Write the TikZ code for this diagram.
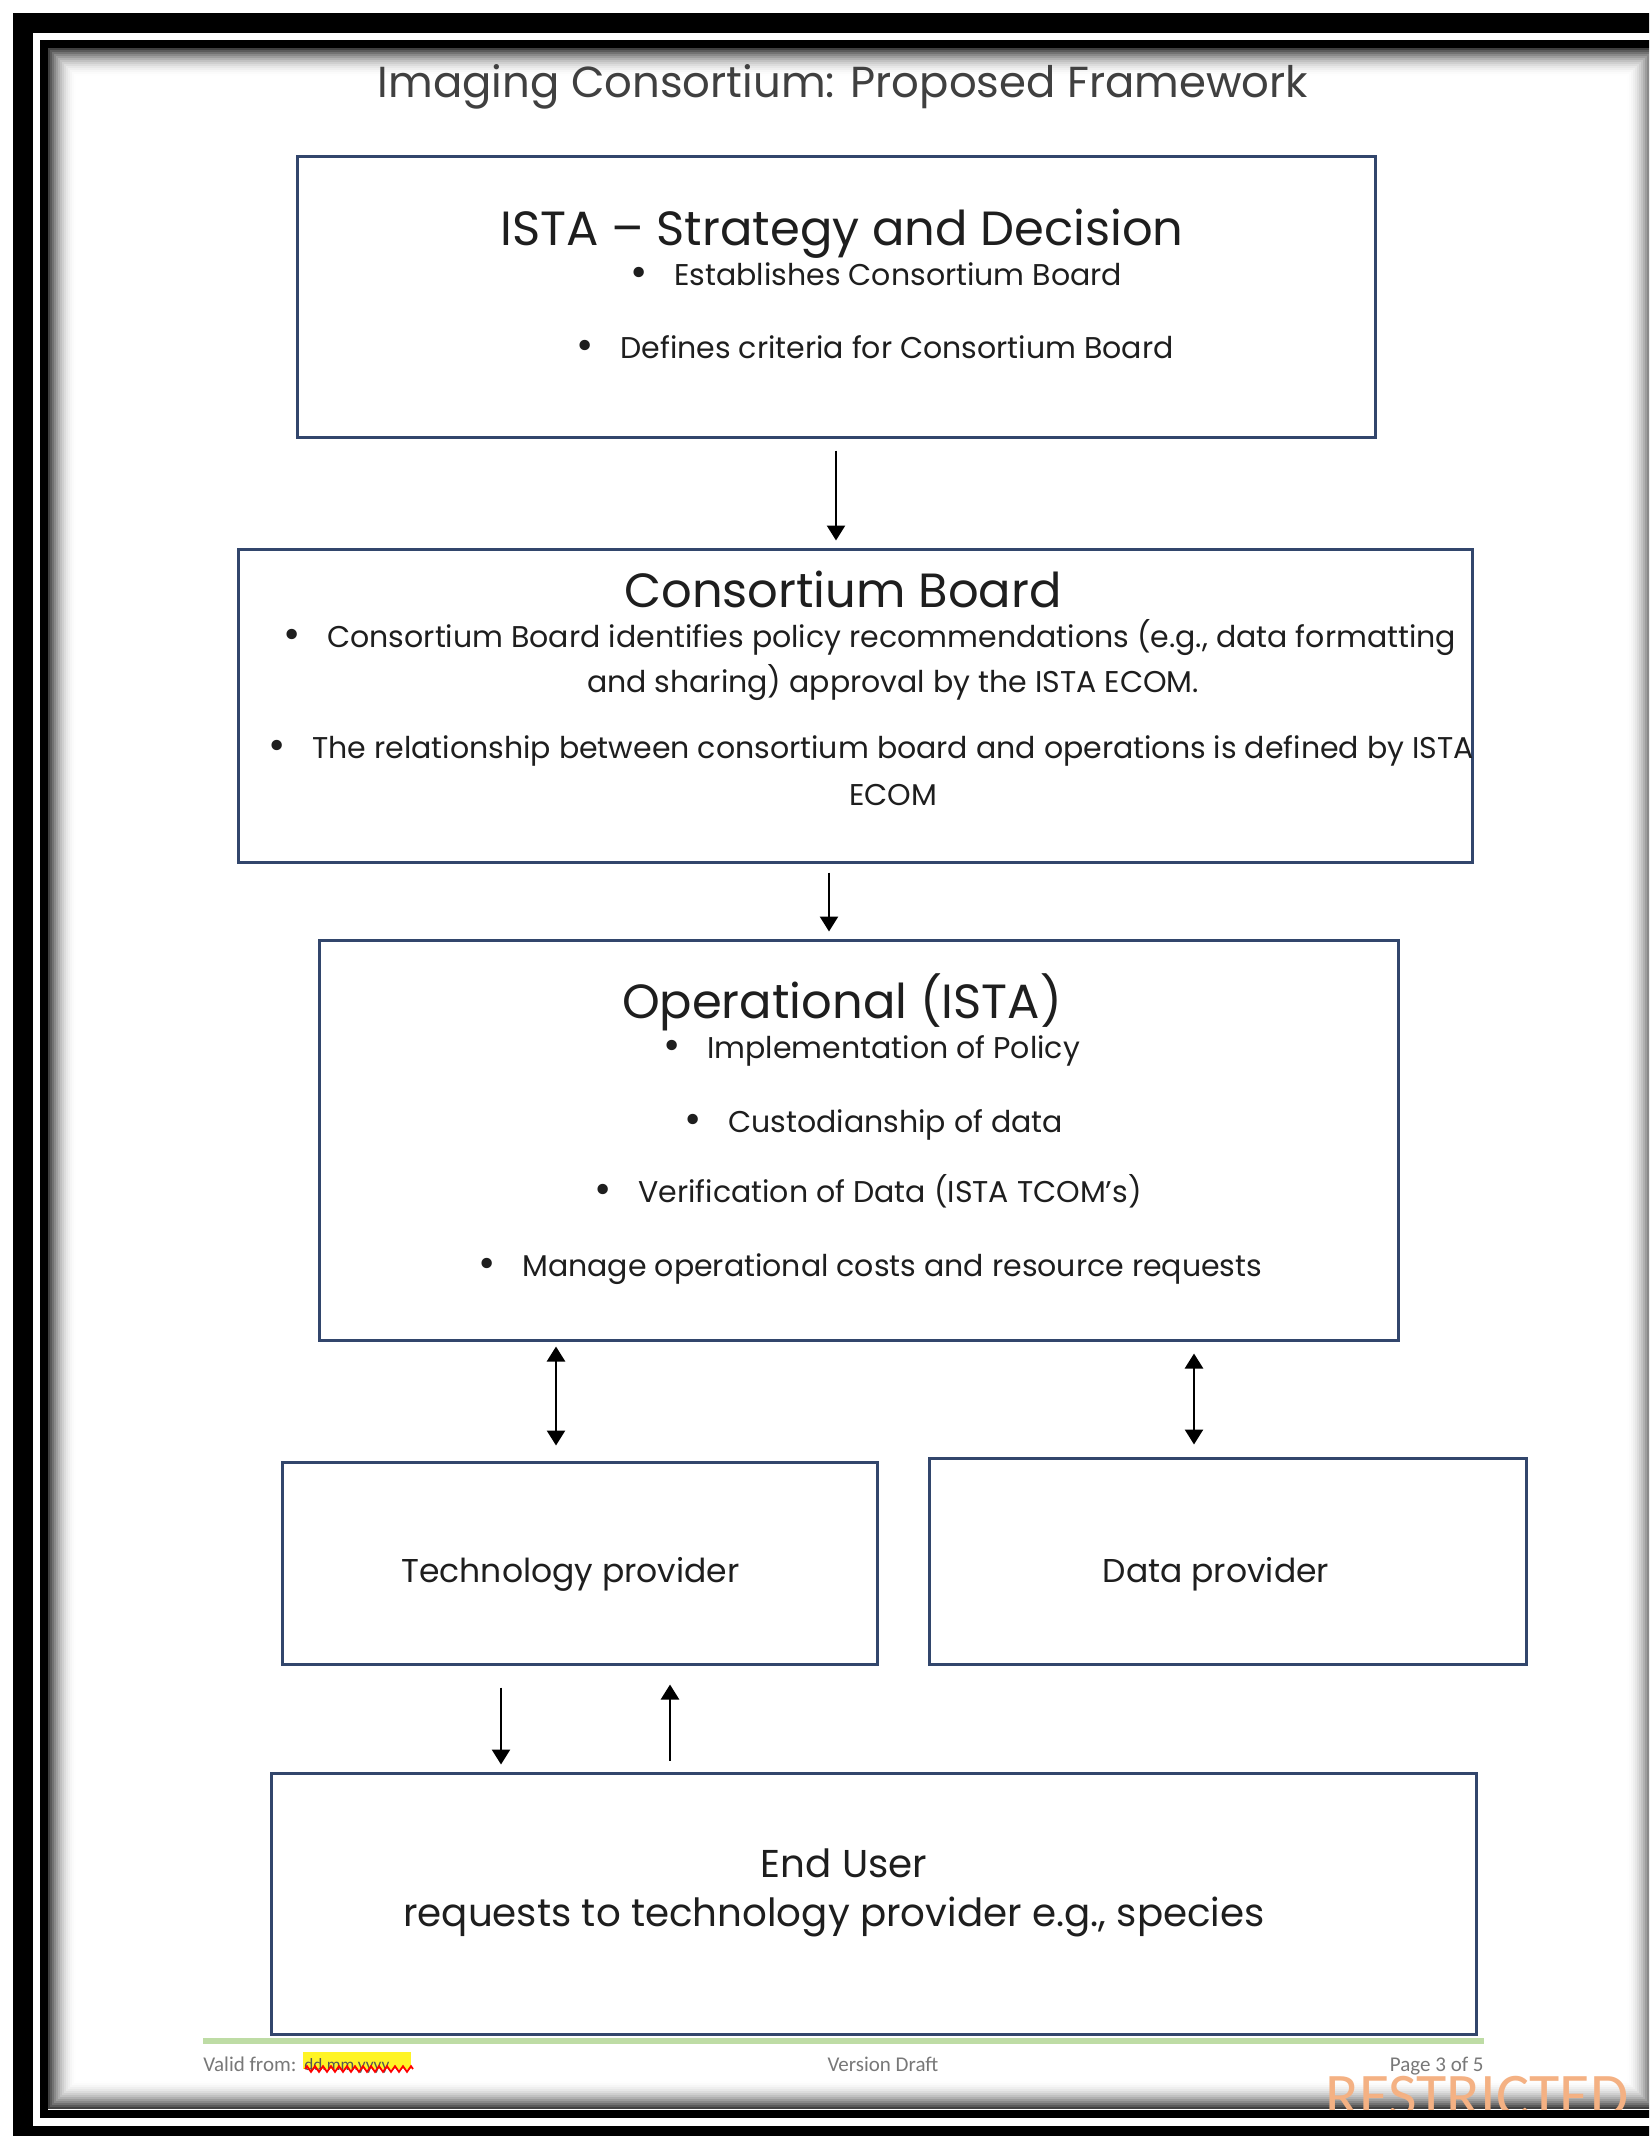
\documentclass[tikz,border=0pt]{standalone}
\usepackage{fontspec}
\setmainfont{Poppins}
\newfontfamily\footfont{Carlito}
\usetikzlibrary{arrows.meta,decorations.pathmorphing}
\definecolor{boxnavy}{RGB}{50,70,108}
\definecolor{footgreen}{RGB}{190,220,165}
\definecolor{restrictorange}{RGB}{244,177,131}
\definecolor{footgray}{RGB}{120,120,120}
\definecolor{txt}{RGB}{30,30,30}
\newcommand\bulmark{\makebox[22pt][l]{\raisebox{-0.6pt}{\fontsize{21}{21}\selectfont\textbullet}}}
\begin{document}
\begin{tikzpicture}[x=0.5pt,y=-0.5pt,
 box/.style={draw=boxnavy,line width=1.5pt,rectangle,inner sep=0pt,fill=white},
 arr/.style={line width=1.3pt,-{Triangle[width=9pt,length=7.5pt]}},
 darr/.style={line width=1.3pt,{Triangle[width=9pt,length=7.5pt]}-{Triangle[width=9pt,length=7.5pt]}},
 titletext/.style={font=\fontsize{21.7}{26}\selectfont,text=txt!85,inner sep=0pt,anchor=base},
 head/.style={font=\fontsize{24}{28}\selectfont,text=txt,inner sep=0pt,anchor=base},
 bul/.style={font=\fontsize{15}{18}\selectfont,text=txt,inner sep=0pt,anchor=base west},
 cont/.style={font=\fontsize{15}{18}\selectfont,text=txt,inner sep=0pt,anchor=base},
 provtext/.style={font=\fontsize{16.5}{20}\selectfont,text=txt,inner sep=0pt,anchor=base},
 endtext/.style={font=\fontsize{19.4}{24}\selectfont,text=txt,inner sep=0pt,anchor=base},
 foot/.style={font=\footfont\fontsize{10.5}{12}\selectfont,text=footgray,inner sep=0pt}
]
\useasboundingbox (0,0) rectangle (1649,2136);
\clip (0,0) rectangle (1649,2136);
\fill[white] (0,0) rectangle (1649,2136);

% inner shadow of the page frame
\foreach \d in {0,2,...,28}{
  \pgfmathsetmacro\op{0.75*(1-\d/28)^2}
  \draw[black,opacity=\op,line width=1pt] (48+\d+1,48+\d+1) rectangle (1655-\d-1,2109-\d-1);
}

% title
\node[titletext] (title) at (843,97) {Imaging Consortium: Proposed Framework};

% boxes
\node[box,minimum width=539pt,minimum height=140.5pt] (b1) at (836,296.5) {};
\node[box,minimum width=617pt,minimum height=156.5pt] (b2) at (855,705.5) {};
\node[box,minimum width=539.5pt,minimum height=200pt] (b3) at (858.5,1140) {};
\node[box,minimum width=297.5pt,minimum height=101pt] (b4) at (579.5,1563) {};
\node[box,minimum width=298.5pt,minimum height=103pt] (b5) at (1227.5,1561) {};
\node[box,minimum width=602.5pt,minimum height=130.5pt] (b6) at (873.5,1903.5) {};

% box 1
\node[head] (h1) at (842,245) {ISTA – Strategy and Decision};
\node[bul] (t11) at (630,285) {\bulmark Establishes Consortium Board};
\node[bul] (t12) at (576,358) {\bulmark Defines criteria for Consortium Board};

% box 2
\node[head] (h2) at (843,607) {Consortium Board};
\node[bul] (t21) at (283,647) {\bulmark Consortium Board identifies policy recommendations (e.g., data formatting};
\node[cont] (t21b) at (893,692) {and sharing) approval by the ISTA ECOM.};
\node[bul] (t22) at (268,758) {\bulmark The relationship between consortium board and operations is defined by ISTA};
\node[cont] (t22b) at (893,805) {ECOM};

% box 3
\node[head] (h3) at (842,1018) {Operational (ISTA)};
\node[bul] (t31) at (663,1058) {\bulmark Implementation of Policy};
\node[bul] (t32) at (684,1132) {\bulmark Custodianship of data};
\node[bul] (t33) at (594,1202) {\bulmark Verification of Data (ISTA TCOM’s)};
\node[bul] (t34) at (478,1276) {\bulmark Manage operational costs and resource requests};

% providers
\node[provtext] (t4) at (570.5,1582) {Technology provider};
\node[provtext] (t5) at (1216,1582) {Data provider};

% end user
\node[endtext] (t6a) at (844,1877) {End User};
\node[endtext] (t6b) at (834,1926) {requests to technology provider e.g., species};

% connectors
\draw[arr,shorten <=6pt,shorten >=3.5pt] (b1.south) -- (b1.south |- b2.north);
\draw[arr,shorten <=4.5pt,shorten >=3.5pt] ([xshift=-13pt]b2.south) -- ([xshift=-13pt]b2.south |- b3.north);
\draw[darr,shorten <=2.5pt,shorten >=7.5pt] ([xshift=-11.75pt]b4.north |- b3.south) -- ([xshift=-11.75pt]b4.north);
\draw[darr,shorten <=6pt,shorten >=6pt] ([xshift=-16.75pt]b5.north |- b3.south) -- ([xshift=-16.75pt]b5.north);
\draw[arr,shorten <=11pt,shorten >=3.5pt] ([xshift=-39.25pt]b4.south) -- ([xshift=-39.25pt]b4.south |- b6.north);
\draw[arr,shorten <=5.5pt,shorten >=9.5pt] ([xshift=45.25pt]b4.south |- b6.north) -- ([xshift=45.25pt]b4.south);

% footer
\draw[footgreen,line width=3pt] (203,2041) -- (1484,2041);
\node[foot,anchor=base west] (valid) at (203,2071) {Valid from:};
\fill[yellow!85!white] (303,2052) rectangle (411,2069);
\node[foot,anchor=base west,text=footgray!70!black,font=\footfont\fontsize{8.6}{10}\selectfont] (date) at (304,2070) {dd.mm.yyyy};
\draw[red,line width=0.9pt,decorate,decoration={zigzag,segment length=4pt,amplitude=1.4pt}] (305,2069) -- (413,2069);
\node[foot,anchor=base] (ver) at (883,2071) {Version Draft};
\node[foot,anchor=base east] (page) at (1484,2071) {Page 3 of 5};
\node[font=\footfont\fontsize{31}{32}\selectfont,text=restrictorange,inner sep=0pt,text height=19.5pt,text depth=0pt,anchor=base west] (restr) at (1325,2116) {RESTRICTED};

% page frame
\draw[black,line width=10pt] (23,23) rectangle (1720,2136);
\draw[black,line width=4pt] (44,44) rectangle (1720,2113.5);
\end{tikzpicture}
\end{document}
